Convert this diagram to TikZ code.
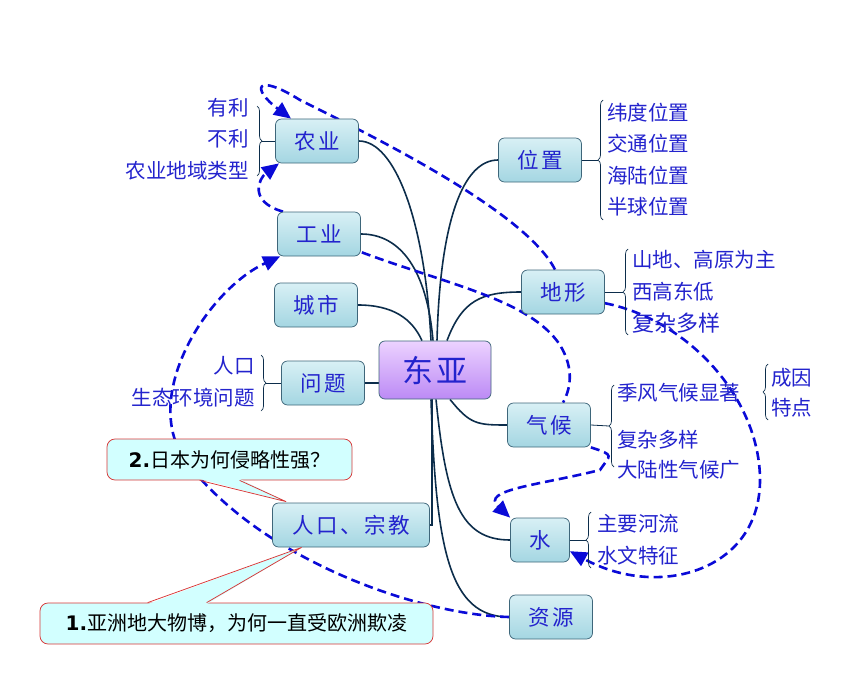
\documentclass[tikz,border=0pt]{standalone}
\usepackage{fontspec}
\setmainfont{Noto Sans CJK SC}
\newfontfamily\topicfont[LetterSpace=12]{Noto Sans CJK SC}
\newfontfamily\numfont{DejaVu Sans}
\usetikzlibrary{arrows.meta,decorations.pathreplacing,backgrounds,calc}

\definecolor{boxtop}{RGB}{216,240,245}
\definecolor{boxbot}{RGB}{164,214,226}
\definecolor{boxline}{RGB}{62,102,122}
\definecolor{hubtop}{RGB}{236,210,255}
\definecolor{hubbot}{RGB}{188,138,245}
\definecolor{labblue}{RGB}{35,35,205}
\definecolor{linkblue}{RGB}{10,10,215}
\definecolor{trunk}{RGB}{12,45,75}
\definecolor{cfill}{RGB}{210,255,255}
\definecolor{cred}{RGB}{215,55,55}

\tikzset{every picture/.style={line width=0.75pt}}
\tikzset{
  topic/.style={draw=boxline, rounded corners=6pt, top color=boxtop, bottom color=boxbot,
    minimum width=83pt, minimum height=44pt, inner sep=0pt, text=labblue,
    font=\topicfont\fontsize{21.5}{24}\selectfont},
  hub/.style={topic, top color=hubtop, bottom color=hubbot, minimum width=112pt,
    minimum height=58pt, font=\topicfont\fontsize{31}{36}\selectfont},
  item/.style={text=labblue, inner sep=0pt, font=\fontsize{20.5}{24}\selectfont},
  branch/.style={draw=trunk, line width=1.6pt},
  stem/.style={draw=trunk, line width=0.8pt},
  rbrc/.style={draw=trunk, line width=0.7pt, decorate, decoration={brace, amplitude=5pt}},
  lbrc/.style={draw=trunk, line width=0.7pt, decorate, decoration={brace, mirror, amplitude=5pt}},
  link/.style={draw=linkblue, line width=2.6pt, dash pattern=on 9pt off 5pt},
  linkarrow/.style={link, -{Triangle[length=17pt,width=15pt]}},
  askbox/.style={draw=cred, fill=cfill, rounded corners=8pt, minimum height=41pt,
    inner sep=0pt, font=\fontsize{20}{24}\selectfont},
}

\begin{document}
\begin{tikzpicture}[x=1pt,y=1pt,yscale=-1]
  \useasboundingbox (0,0) rectangle (856,682);

  % centre and main topics
  \node[hub] (dy) at (435,370) {东亚};
  \node[topic] (ny) at (317,141) {农业};
  \node[topic] (gy) at (319,234) {工业};
  \node[topic] (cs) at (316,305) {城市};
  \node[topic] (wt) at (323,383) {问题};
  \node[topic, minimum width=157pt] (rz) at (351,525) {人口、宗教};
  \node[topic] (wz) at (540,160) {位置};
  \node[topic] (dx) at (563,292) {地形};
  \node[topic] (qh) at (549,425) {气候};
  \node[topic, minimum width=59pt] (sh) at (540,540) {水};
  \node[topic] (zy) at (551,617) {资源};

  \begin{scope}[on background layer]
    % branches from the centre
    \draw[branch] ([xshift=-4pt]dy.north) .. controls +(-6,-120) and +(36,0) .. (ny.east);
    \draw[branch] ([xshift=-2pt]dy.north) .. controls +(-6,-70) and +(40,0) .. (gy.east);
    \draw[branch] ([xshift=-13pt]dy.north) .. controls +(-10,-22) and +(35,0) .. (cs.east);
    \draw[branch] ([xshift=2pt]dy.north) .. controls +(3,-120) and +(-35,0) .. (wz.west);
    \draw[branch] ([xshift=12pt]dy.north) .. controls +(15,-40) and +(-40,0) .. (dx.west);
    \draw[branch] (wt.east) -- (wt.east -| dy.west);
    \draw[branch] ([xshift=15pt]dy.south) .. controls +(20,25) and +(-30,0) .. (qh.west);
    \draw[branch] ([xshift=1pt]dy.south) .. controls +(10,100) and +(-50,0) .. (sh.west);
    \draw[branch] ([xshift=-4pt]dy.south) .. controls +(5,150) and +(-60,0) .. (zy.west);
    \draw[branch] ([xshift=-3pt]dy.south) |- (rz.east);

    % dashed links
    \draw[linkarrow] ([xshift=-8pt]dx.north) .. controls +(-30,-60) and +(60,30) .. (300,100)
      .. controls +(-45,-28) and +(-40,-30) .. ([xshift=-26pt]ny.north);
    \draw[linkarrow] ([xshift=-36pt]gy.north) .. controls +(-35,-10) and +(-20,15) .. ([xshift=-38pt]ny.south);
    \draw[link] ($(gy.south east)+(1,-4)$) .. controls +(89,33) and +(-30,-45) .. (560,345)
      .. controls +(15,25) and +(7,-13) .. ([xshift=14pt]qh.north);
    \draw[linkarrow] ($(dx.east)!0.5!(dx.south east)$) .. controls +(85,17) and +(0,-80) .. (760,480)
      .. controls +(0,90) and +(90,49) .. ($(sh.east)!0.5!(sh.south east)$);
    \draw[linkarrow] (qh.south east) .. controls +(25,8) and +(10,-15) .. (600,470)
      .. controls +(-60,15) and +(-30,-28) .. (sh.north west);
    \draw[linkarrow] (zy.west) .. controls +(-90,-2) and +(75,100) .. (185,460)
      .. controls +(-45,-65) and +(-72,33) .. ([xshift=3pt]gy.south west);
  \end{scope}

  % sub-items of 农业
  \node[item, anchor=east] (yl) at (249,108) {有利};
  \node[item, anchor=east] (bl) at (249,139) {不利};
  \node[item, anchor=east] (lx) at (249,171) {农业地域类型};
  \coordinate (nyb) at (262,141);
  \draw[stem] (nyb) -- (ny.west);
  \draw[rbrc] (257,106) -- (257,176);

  % sub-items of 问题
  \node[item, anchor=east] (rk) at (255,366) {人口};
  \node[item, anchor=east] (st) at (255,398) {生态环境问题};
  \coordinate (wtb) at (266,383);
  \draw[stem] (wtb) -- (wt.west);
  \draw[rbrc] (261,355) -- (261,411);

  % sub-items of 位置
  \node[item, anchor=west] (wd) at (607,113) {纬度位置};
  \node[item, anchor=west] (jt) at (607,144) {交通位置};
  \node[item, anchor=west] (hl) at (607,176) {海陆位置};
  \node[item, anchor=west] (bq) at (607,207) {半球位置};
  \coordinate (wzb) at (598,160);
  \draw[stem] (wz.east) -- (wzb);
  \draw[lbrc] (603,100) -- (603,220);

  % sub-items of 地形
  \node[item, anchor=west] (sd) at (632,260) {山地、高原为主};
  \node[item, anchor=west] (xg) at (632,292) {西高东低};
  \node[item, anchor=west, font=\fontsize{22}{26}\selectfont] (fz) at (632,323) {复杂多样};
  \coordinate (dxb) at (623,292);
  \draw[stem] (dx.east) -- (dxb);
  \draw[lbrc] (628,249) -- (628,335);

  % sub-items of 气候
  \node[item, anchor=west] (jf) at (617,393) {季风气候显著};
  \node[item, anchor=west] (fq) at (617,440) {复杂多样};
  \node[item, anchor=west] (dl) at (617,470) {大陆性气候广};
  \coordinate (qhb) at (609,426);
  \draw[stem] (qh.east) -- (qhb);
  \draw[lbrc] (614,385) -- (614,467);

  % 成因 / 特点
  \node[item, anchor=west] (cy) at (771,378) {成因};
  \node[item, anchor=west] (td) at (771,408) {特点};
  \draw[lbrc] (768,364) -- (768,420);

  % sub-items of 水
  \node[item, anchor=west] (hh) at (597,524) {主要河流};
  \node[item, anchor=west] (sw) at (597,556) {水文特征};
  \coordinate (shb) at (586,540);
  \draw[stem] (sh.east) -- (shb);
  \draw[lbrc] (591,512) -- (591,568);

  % questions
  \node[askbox, minimum width=245pt] (q2) at (229.5,459.5) {{\numfont\bfseries 2.}日本为何侵略性强？};
  \fill[cfill] ($(q2.south west)+(93,-1.5)$) -- ($(rz.north west)+(14,-1)$) -- ($(q2.south west)+(133,-1.5)$) -- cycle;
  \draw[cred] ($(q2.south west)+(93,0)$) -- ($(rz.north west)+(14,-1)$) -- ($(q2.south west)+(133,0)$);

  \node[askbox, minimum width=393pt] (q1) at (236.5,623.5) {{\numfont\bfseries 1.}亚洲地大物博，为何一直受欧洲欺凌};
  \fill[cfill] ($(q1.north west)+(108,1.5)$) -- ($(rz.south west)+(29.5,0)$) -- ($(q1.north west)+(167,1.5)$) -- cycle;
  \draw[cred] ($(q1.north west)+(108,0)$) -- ($(rz.south west)+(29.5,0)$) -- ($(q1.north west)+(167,0)$);

\end{tikzpicture}
\end{document}
